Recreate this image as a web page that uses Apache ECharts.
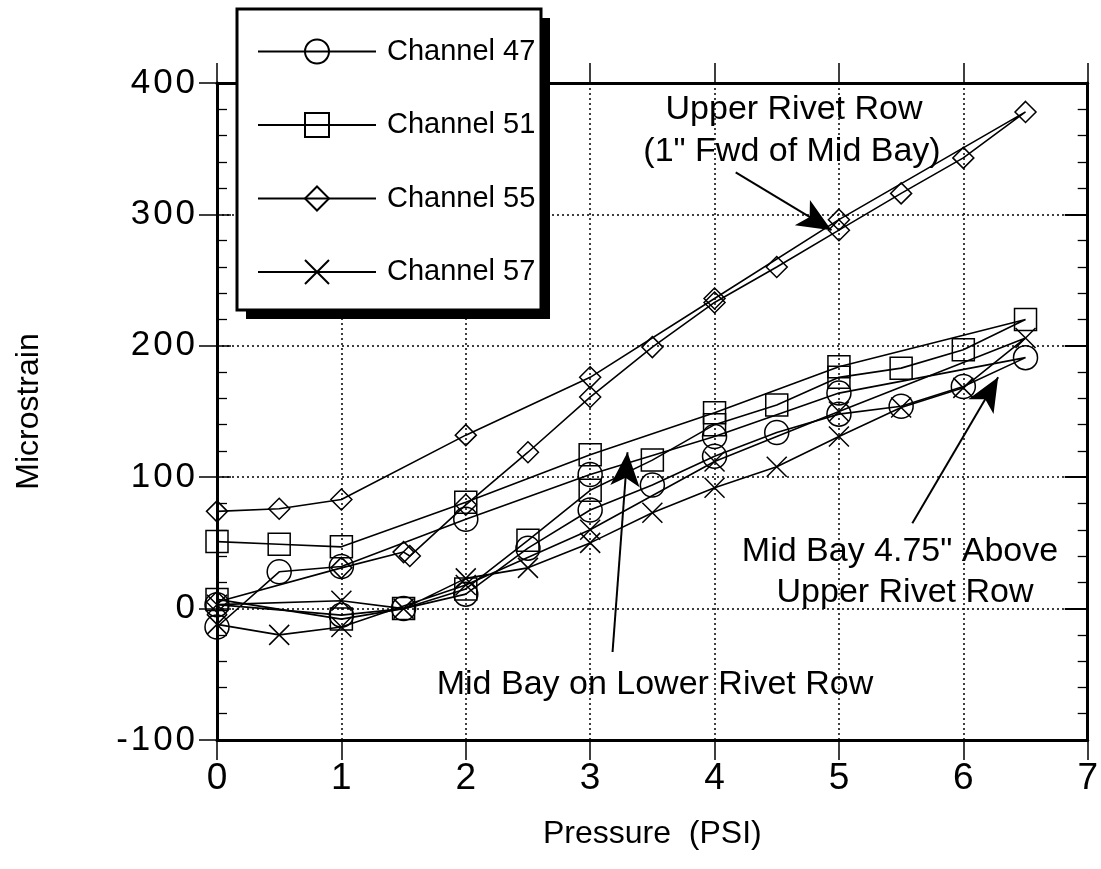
<!DOCTYPE html>
<html>
<head>
<meta charset="utf-8">
<script src="https://cdn.jsdelivr.net/npm/echarts@6/dist/echarts.min.js"></script>
<style>html,body{margin:0;padding:0;background:#fff;}#c{width:1101px;height:869px;}</style>
</head>
<body>
<div id="c"></div>
<script>
// ---- data (pressure in PSI, strain in microstrain), load then unload order ----
const seriesNames = ['Channel 47', 'Channel 51', 'Channel 55', 'Channel 57'];
const ch47X = [0, 1, 1.5, 2, 2.5, 3, 3.5, 4, 4.5, 5, 5.5, 6, 6.5, 5, 4, 3, 2, 1, 0.5, 0];
const ch47Y = [3, -5, 0, 11, 46, 75, 94, 116, 134, 148, 154, 169, 191, 164, 131, 102, 68, 32, 28, -14];
const ch51X = [0, 1, 1.5, 2, 2.5, 3, 3.5, 4, 4.5, 5, 5.5, 6, 6.5, 5, 4, 3, 2, 1, 0.5, 0];
const ch51Y = [7, -8, 0, 15, 52, 90, 113, 140, 155, 176, 183, 197, 220, 184, 149, 117, 81, 47, 49, 51];
const ch55X = [0, 1, 1.5, 1.55, 2, 2.5, 3, 3.5, 4, 4.5, 5, 5.5, 6, 6.5, 5, 4, 3, 2, 1, 0.5, 0];
const ch55Y = [5, 31, 43, 40, 79, 119, 161, 199, 233, 260, 288, 316, 343, 378, 296, 236, 176, 132, 83, 76, 74];
const ch57X = [0, 1, 1.5, 2, 2.5, 3, 3.5, 4, 4.5, 5, 5.5, 6, 6.5, 5, 4, 3, 2, 1, 0.5, 0];
const ch57Y = [3, 6, 0, 23, 31, 50, 73, 92, 108, 131, 153, 168, 206, 150, 112, 60, 18, -14, -20, -12];
const xTicks = [0, 1, 2, 3, 4, 5, 6, 7];
const yTicks = [-100, 0, 100, 200, 300, 400];
// annotation arrows: [fromX, fromY, toX, toY] in data units
const arrowUpper = [4.17, 332, 4.94, 288];
const arrowLower = [3.18, -33, 3.30, 119];
const arrowAbove = [5.59, 65, 6.28, 176];
const annotations = [
  ['Upper Rivet Row', 794, 110],
  ['(1" Fwd of Mid Bay)', 792, 152],
  ['Mid Bay 4.75" Above', 900, 552],
  ['Upper Rivet Row', 905, 593],
  ['Mid Bay on Lower Rivet Row', 655, 685]
];

const pairs = (xs, ys) => xs.map((x, i) => [x, ys[i]]);
const FONT = 'Liberation Sans, Arial, Helvetica, sans-serif';
const spaced = v => String(v).split('').join('\u200a');

const chart = echarts.init(document.getElementById('c'), null, {renderer: 'canvas'});
const markerStyle = {color: 'rgba(0,0,0,0)', borderColor: '#000', borderWidth: 1.5};
const lineStyle = {color: '#000', width: 1.6};
function mkSeries(name, data, symbol, size) {
  return {
    name, type: 'line', data, symbol, symbolSize: size, showSymbol: true,
    lineStyle, itemStyle: markerStyle, xAxisIndex: 0, yAxisIndex: 0, z: 3,
    emphasis: {disabled: true}
  };
}
const xPath = 'path://M0,0L20,20M20,0L0,20';

chart.setOption({
  animation: false,
  backgroundColor: '#fff',
  grid: {left: 217, right: 11, top: 83, bottom: 129, containLabel: false},
  xAxis: [{
    type: 'value', min: xTicks[0], max: xTicks[xTicks.length - 1], interval: 1, position: 'bottom',
    axisLine: {show: true, onZero: false, lineStyle: {color: '#000', width: 3}},
    axisTick: {show: true, inside: false, length: 20, lineStyle: {color: '#000', width: 1.5}},
    axisLabel: {color: '#000', fontSize: 37, fontFamily: FONT, margin: 20},
    splitLine: {show: true, lineStyle: {color: '#000', width: 1.5, type: [2, 3]}},
    name: 'Pressure  (PSI)', nameLocation: 'middle', nameGap: 78,
    nameTextStyle: {color: '#000', fontSize: 32, fontFamily: FONT}
  }, {
    type: 'value', min: 0, max: 7, interval: 1, position: 'top',
    axisLine: {show: true, onZero: false, lineStyle: {color: '#000', width: 3}},
    axisTick: {show: true, inside: false, length: 20, lineStyle: {color: '#000', width: 1.5}},
    axisLabel: {show: false}, splitLine: {show: false}
  }],
  yAxis: [{
    type: 'value', min: yTicks[0], max: yTicks[yTicks.length - 1], interval: 100, position: 'left',
    axisLine: {show: true, onZero: false, lineStyle: {color: '#000', width: 3}},
    axisTick: {show: true, inside: false, length: 18, lineStyle: {color: '#000', width: 1.5}},
    axisLabel: {color: '#000', fontSize: 35, fontFamily: FONT, margin: 22, formatter: v => spaced(v)},
    splitLine: {show: true, lineStyle: {color: '#000', width: 1.5, type: [2, 3]}},
    name: 'Microstrain', nameLocation: 'middle', nameGap: 172, nameRotate: 90,
    nameTextStyle: {color: '#000', fontSize: 32, fontFamily: FONT}
  }, {
    type: 'value', min: -100, max: 400, interval: 100, position: 'left', offset: 0,
    axisLine: {show: false},
    axisTick: {show: true, inside: true, length: 14, lineStyle: {color: '#000', width: 1.5}},
    minorTick: {show: true, splitNumber: 5, length: 10, lineStyle: {color: '#000', width: 1.3}},
    axisLabel: {show: false}, splitLine: {show: false}
  }, {
    type: 'value', min: -100, max: 400, interval: 100, position: 'right',
    axisLine: {show: true, onZero: false, lineStyle: {color: '#000', width: 3}},
    axisTick: {show: true, inside: true, length: 23, lineStyle: {color: '#000', width: 2}},
    minorTick: {show: true, splitNumber: 5, length: 10, lineStyle: {color: '#000', width: 1.3}},
    axisLabel: {show: false}, splitLine: {show: false}
  }],
  legend: {
    show: true, orient: 'vertical', left: 237, top: 9,
    data: seriesNames,
    backgroundColor: 'transparent', borderWidth: 0,
    padding: [28, 12, 20, 20],
    itemWidth: 118, itemHeight: 30, itemGap: 44.5,
    textStyle: {color: '#000', fontSize: 29, fontFamily: FONT, padding: [0, 0, 0, 6]},
    selectedMode: false, z: 12
  },
  graphic: [
    {type: 'rect', z: 10, shape: {x: 246, y: 18, width: 304, height: 301}, style: {fill: '#000'}},
    {type: 'rect', z: 11, shape: {x: 237, y: 9, width: 304, height: 301}, style: {fill: '#fff', stroke: '#000', lineWidth: 3}}
  ].concat(annotations.map(a => ({
    type: 'text', z: 20, x: a[1], y: a[2],
    style: {text: a[0], fontSize: 34, fontFamily: FONT, fill: '#000', align: 'center', verticalAlign: 'middle'}
  }))),
  series: [
    mkSeries(seriesNames[0], pairs(ch47X, ch47Y), 'circle', 24),
    mkSeries(seriesNames[1], pairs(ch51X, ch51Y), 'rect', 22),
    mkSeries(seriesNames[2], pairs(ch55X, ch55Y), 'diamond', [21, 21]),
    mkSeries(seriesNames[3], pairs(ch57X, ch57Y), xPath, 20),
    {
      type: 'line', data: [], silent: true, z: 4, color: '#000',
      itemStyle: {color: '#000'},
      markLine: {
        silent: true, symbol: ['none', 'arrow'], symbolSize: 30,
        itemStyle: {color: '#000'},
        label: {show: false}, lineStyle: {color: '#000', width: 2, type: 'solid'},
        emphasis: {disabled: true},
        data: [arrowUpper, arrowLower, arrowAbove].map(a => [
          {coord: [a[0], a[1]], symbol: 'none'},
          {coord: [a[2], a[3]], symbol: 'arrow', symbolSize: [22, 34]}
        ])
      }
    }
  ]
});
</script>
</body>
</html>
